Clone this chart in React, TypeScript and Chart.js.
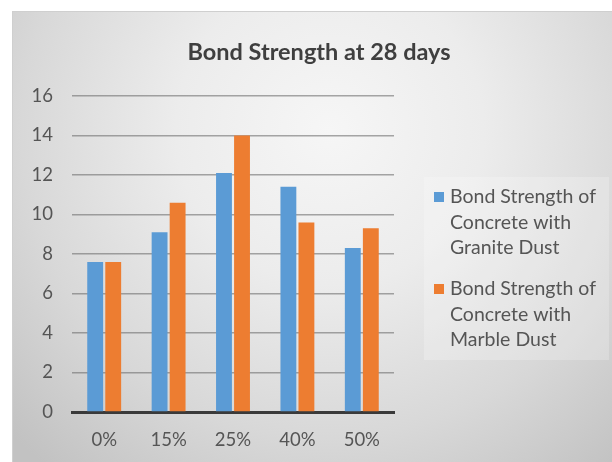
import React, { useEffect, useRef } from 'react';
import { Chart, registerables } from 'chart.js';

Chart.register(...registerables);

const categories = ['0%', '15%', '25%', '40%', '50%'];
const graniteValues = [7.6, 9.1, 12.1, 11.4, 8.3];
const marbleValues = [7.6, 10.6, 14.0, 9.6, 9.3];
const seriesLabels = [
  'Bond Strength of Concrete with Granite Dust',
  'Bond Strength of Concrete with Marble Dust',
];
const legendLines = [
  ['Bond Strength of', 'Concrete with', 'Granite Dust'],
  ['Bond Strength of', 'Concrete with', 'Marble Dust'],
];
const seriesColors = ['#5B9BD5', '#ED7D31'];
const titleText = 'Bond Strength at 28 days';
const yMin = 0;
const yMax = 16;
const yStep = 2;

const W = 612;
const H = 462;
const FONT = 'Lato, "Open Sans", sans-serif';

const backgroundPlugin = {
  id: 'excelBackground',
  beforeDraw(chart: any) {
    const ctx = chart.ctx;
    ctx.save();
    ctx.fillStyle = '#ffffff';
    ctx.fillRect(0, 0, W, H);
    const g = ctx.createRadialGradient(330, 130, 0, 330, 130, 440);
    g.addColorStop(0, '#f6f6f6');
    g.addColorStop(0.35, '#ececec');
    g.addColorStop(0.7, '#d8d8d8');
    g.addColorStop(1, '#c2c2c2');
    ctx.fillStyle = g;
    ctx.fillRect(12, 11, W - 12, H - 11);
    ctx.strokeStyle = '#cfcfcf';
    ctx.lineWidth = 1;
    ctx.strokeRect(12.5, 11.5, W - 12, H - 11);
    ctx.fillStyle = 'rgba(255,255,255,0.22)';
    ctx.fillRect(424, 177, 185, 183);
    ctx.restore();
  },
};

const titleLegendPlugin = {
  id: 'titleLegend',
  afterDraw(chart: any) {
    const ctx = chart.ctx;
    ctx.save();
    ctx.font = `bold 23.5px ${FONT}`;
    ctx.fillStyle = '#3f3f3f';
    ctx.textAlign = 'center';
    ctx.textBaseline = 'middle';
    ctx.fillText(titleText, 319, 52);
    ctx.font = `19.5px ${FONT}`;
    ctx.textAlign = 'left';
    const lineH = 25.5;
    const itemTops = [197, 289];
    chart.data.datasets.forEach((ds: any, i: number) => {
      const y0 = itemTops[i];
      ctx.fillStyle = ds.backgroundColor;
      ctx.fillRect(434, y0 - 5, 10, 10);
      ctx.fillStyle = '#555555';
      legendLines[i].forEach((line, j) => {
        ctx.fillText(line, 450, y0 + j * lineH);
      });
    });
    ctx.restore();
  },
};

export default function App() {
  const ref = useRef<HTMLCanvasElement | null>(null);
  useEffect(() => {
    if (!ref.current) return;
    const chart = new Chart(ref.current, {
      type: 'bar',
      data: {
        labels: categories,
        datasets: [
          {
            label: seriesLabels[0],
            data: graniteValues,
            backgroundColor: seriesColors[0],
            categoryPercentage: 0.56,
            barPercentage: 0.88,
          },
          {
            label: seriesLabels[1],
            data: marbleValues,
            backgroundColor: seriesColors[1],
            categoryPercentage: 0.56,
            barPercentage: 0.88,
          },
        ],
      },
      options: {
        responsive: false,
        animation: false,
        devicePixelRatio: 1,
        layout: { padding: { left: 0, top: 96, right: 218, bottom: 0 } },
        plugins: {
          legend: { display: false },
          title: { display: false },
          tooltip: { enabled: false },
        },
        scales: {
          x: {
            grid: { display: false, drawTicks: false },
            border: { display: true, color: '#3a3a3a', width: 3 },
            ticks: { color: '#555555', font: { family: FONT, size: 18.5 }, padding: 17 },
            afterFit: (s: any) => {
              s.height = 50;
            },
          },
          y: {
            min: yMin,
            max: yMax,
            grid: { color: 'rgba(110,110,110,0.6)', lineWidth: 1.6, drawTicks: false },
            border: { display: false },
            ticks: {
              stepSize: yStep,
              color: '#555555',
              font: { family: FONT, size: 18.5 },
              padding: 19,
            },
            afterFit: (s: any) => {
              s.width = 72;
            },
          },
        },
      },
      plugins: [backgroundPlugin, titleLegendPlugin],
    });
    return () => chart.destroy();
  }, []);
  return (
    <div style={{ position: 'fixed', left: 0, top: 0, width: W, height: H }}>
      <canvas ref={ref} width={W} height={H} style={{ width: W, height: H, display: 'block' }} />
    </div>
  );
}
